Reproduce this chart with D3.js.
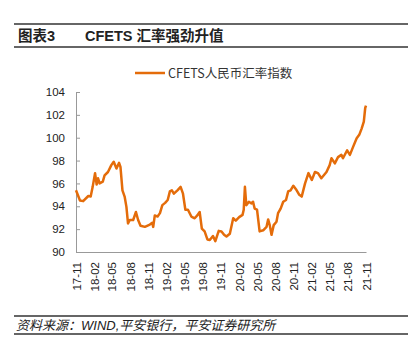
<!DOCTYPE html>
<html>
<head>
<meta charset="utf-8">
<script src="https://cdn.jsdelivr.net/npm/d3@7"></script>
<style>
  html, body { margin: 0; padding: 0; background: #fff; overflow: hidden; }
  svg { display: block; }
  svg text { font-family: "Liberation Sans", "Noto Sans CJK SC", sans-serif; }
</style>
</head>
<body>
<div id="chart"></div>
<script>
const width = 408, height = 353;
const margin = { left: 76, right: 42, top: 92, bottom: 101 };
const innerWidth = width - margin.left - margin.right;
const innerHeight = height - margin.top - margin.bottom;

// CFETS index
const dates = [
  "2017-11-01","2017-11-21","2017-12-07","2018-01-02","2018-01-14","2018-01-24","2018-02-05","2018-02-13",
  "2018-02-20","2018-02-28","2018-03-16","2018-03-25","2018-04-11","2018-04-28","2018-05-10","2018-05-24",
  "2018-06-06","2018-06-13","2018-06-23","2018-07-04","2018-07-13","2018-07-21","2018-07-30","2018-08-16",
  "2018-08-30","2018-09-10","2018-09-22","2018-10-14","2018-11-08","2018-11-20","2018-11-25","2018-12-03",
  "2018-12-17","2018-12-29","2019-01-10","2019-01-24","2019-02-06","2019-02-17","2019-02-27","2019-03-09",
  "2019-03-27","2019-04-12","2019-04-24","2019-05-06","2019-05-19","2019-06-05","2019-06-22","2019-07-05",
  "2019-07-17","2019-07-28","2019-08-11","2019-08-25","2019-09-06","2019-09-22","2019-10-04","2019-10-21",
  "2019-11-04","2019-11-17","2019-11-29","2019-12-16","2020-01-02","2020-01-15","2020-02-01","2020-02-18",
  "2020-02-24","2020-03-01","2020-03-08","2020-03-21","2020-04-03","2020-04-11","2020-04-19","2020-05-01",
  "2020-05-14","2020-06-01","2020-06-18","2020-06-26","2020-07-04","2020-07-13","2020-07-24","2020-08-07",
  "2020-08-15","2020-08-28","2020-09-10","2020-09-24","2020-10-05","2020-10-17","2020-10-31","2020-11-13",
  "2020-11-30","2020-12-12","2020-12-29","2021-01-15","2021-02-01","2021-02-17","2021-03-04","2021-03-21",
  "2021-04-16","2021-05-02","2021-05-11","2021-05-28","2021-06-13","2021-06-30","2021-07-08","2021-07-29",
  "2021-08-12","2021-08-28","2021-09-15","2021-09-28","2021-10-10","2021-10-21","2021-10-28","2021-11-01"
];
const cfets = [
  95.4, 94.5, 94.45, 94.9, 94.85, 95.7, 96.9, 95.9,
  96.45, 96.0, 96.15, 96.7, 97.0, 97.6, 97.9, 97.3,
  97.8, 97.45, 95.4, 94.85, 93.95, 92.5, 92.8, 92.8,
  93.5, 92.8, 92.3, 92.2, 92.4, 92.55, 92.2, 93.2,
  93.1, 93.4, 94.1, 94.3, 94.55, 95.3, 95.4, 95.1,
  95.4, 95.7, 95.1, 93.7, 93.7, 93.1, 92.95, 93.2,
  93.5, 92.05, 91.8, 91.1, 91.05, 91.4, 90.95, 91.85,
  91.8, 91.5, 91.35, 91.6, 92.95, 92.75, 93.05, 93.25,
  93.7, 95.7, 94.1, 94.4, 94.25, 94.4, 93.8, 93.7,
  91.8, 91.9, 92.2, 92.85, 92.35, 91.5, 92.35, 92.65,
  93.4, 93.8, 94.4, 94.55, 95.3, 95.4, 95.8, 95.5,
  95.0, 94.85, 96.0, 96.9, 96.3, 97.0, 96.9, 96.45,
  97.0, 97.6, 98.2, 97.75, 98.3, 98.5, 98.2, 98.9,
  98.5, 99.2, 99.95, 100.25, 100.8, 101.4, 102.6, 102.8
];
const yTicks = [90, 92, 94, 96, 98, 100, 102, 104];
const xTickLabels = ["17-11","18-02","18-05","18-08","18-11","19-02","19-05","19-08","19-11",
  "20-02","20-05","20-08","20-11","21-02","21-05","21-08","21-11"];

const parse = d3.timeParse("%Y-%m-%d");
const tickParse = d3.timeParse("%y-%m");
const data = dates.map((d, i) => ({ date: parse(d), value: cfets[i] }));

const svg = d3.select("#chart")
  .append("svg")
  .attr("width", width)
  .attr("height", height);

// Header
svg.append("line").attr("x1", 14).attr("x2", width).attr("y1", 24).attr("y2", 24)
  .attr("stroke", "#333").attr("stroke-width", 1.5);
svg.append("line").attr("x1", 14).attr("x2", width).attr("y1", 47).attr("y2", 47)
  .attr("stroke", "#333").attr("stroke-width", 1.5);
svg.append("text").attr("x", 18).attr("y", 41)
  .style("font-size", "14.5px")
  .style("font-weight", "bold").style("fill", "#222").text("图表3");
svg.append("text").attr("x", 85).attr("y", 41)
  .style("font-size", "14.5px")
  .style("font-weight", "bold").style("fill", "#222").text("CFETS 汇率强劲升值");

// Footer
svg.append("line").attr("x1", 14).attr("x2", width).attr("y1", 316).attr("y2", 316)
  .attr("stroke", "#333").attr("stroke-width", 1.5);
svg.append("line").attr("x1", 14).attr("x2", width).attr("y1", 334).attr("y2", 334)
  .attr("stroke", "#333").attr("stroke-width", 1.5);
svg.append("text").attr("x", 16).attr("y", 330)
  .style("font-size", "13px")
  .style("font-style", "italic").style("fill", "#222")
  .text("资料来源：WIND,平安银行，平安证券研究所");

// Legend
svg.append("line").attr("x1", 135).attr("x2", 165).attr("y1", 73).attr("y2", 73)
  .attr("stroke", "#E46C0A").attr("stroke-width", 2.5);
svg.append("text").attr("x", 168).attr("y", 77.5)
  .style("font-family", "'Noto Sans CJK SC'").style("font-size", "12.5px")
  .style("fill", "#333").text("CFETS人民币汇率指数");

const innerChart = svg.append("g")
  .attr("transform", `translate(${margin.left},${margin.top})`);

const xScale = d3.scaleTime()
  .domain([tickParse("17-11"), tickParse("21-11")])
  .range([0, innerWidth]);

const yScale = d3.scaleLinear()
  .domain([90, 104])
  .range([innerHeight, 0]);

// Y axis
const yAxis = innerChart.append("g")
  .call(d3.axisLeft(yScale).tickValues(yTicks).tickSize(-4).tickPadding(11));
yAxis.select(".domain").attr("stroke", "#999");
yAxis.selectAll(".tick line").attr("stroke", "#999");
yAxis.selectAll("text")
  .style("font-size", "11.5px")
  .style("fill", "#222");

// X axis
const xAxis = innerChart.append("g")
  .attr("transform", `translate(0,${innerHeight})`)
  .call(d3.axisBottom(xScale)
    .tickValues(xTickLabels.map(tickParse))
    .tickFormat(d3.timeFormat("%y-%m"))
    .tickSize(0));
xAxis.select(".domain").attr("stroke", "#999");
xAxis.selectAll("text")
  .attr("transform", "rotate(-90)")
  .attr("text-anchor", "end")
  .attr("x", -10)
  .attr("y", 0)
  .attr("dy", "0.35em")
  .style("font-size", "11.5px")
  .style("fill", "#222");

// Line
innerChart.append("path")
  .datum(data)
  .attr("fill", "none")
  .attr("stroke", "#E46C0A")
  .attr("stroke-width", 2.5)
  .attr("stroke-linejoin", "round")
  .attr("d", d3.line()
    .x(d => xScale(d.date))
    .y(d => yScale(d.value)));
</script>
</body>
</html>
